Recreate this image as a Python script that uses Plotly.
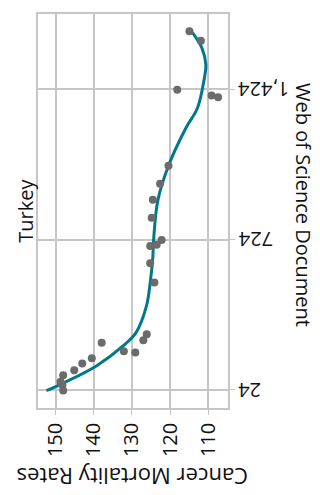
import plotly.graph_objects as go

# Observed country data: Web of Science documents vs cancer mortality rate
docs = [1695, 1650, 1422, 1396, 1387, 1068, 984, 910, 826, 722, 700, 694,
        614, 524, 284, 256, 198, 204, 244, 172, 147, 116, 93, 62, 47, 21]
rate = [114.9, 111.9, 118.1, 109.1, 107.4, 120.4, 122.6, 124.5, 124.8, 122.2,
        123.5, 125.2, 125.2, 124.1, 126.1, 127.0, 129.1, 132.1, 137.9, 140.5,
        143.0, 145.1, 148.0, 148.7, 148.2, 148.0]

# Smoothed trend (rate as a function of documents)
fit_docs = [21, 56, 136, 229, 291, 413, 522, 644, 722, 906, 1068, 1245,
            1337, 1476, 1538, 1615, 1688]
fit_rate = [152.4, 148.0, 139.3, 132.3, 128.9, 126.2, 125.2, 124.5, 124.3,
            123.2, 120.4, 115.8, 112.8, 111.0, 110.6, 111.6, 114.1]

# Document-axis ticks
doc_ticks = [24, 724, 1424]
doc_tick_labels = ["24", "724", "1,424"]

title = "Turkey"
x_title = "Cancer Mortality Rates"
y_title = "Web of Science Document"

GRID = "#c6c6c6"
FONT = "Open Sans"

fig = go.Figure()
fig.add_trace(go.Scatter(
    x=fit_rate, y=fit_docs, mode="lines",
    line=dict(color="#00798c", width=3, shape="spline", smoothing=1.0),
    hoverinfo="skip", showlegend=False,
))
fig.add_trace(go.Scatter(
    x=rate, y=docs, mode="markers",
    marker=dict(color="#6b6b6b", size=8),
    showlegend=False,
))

# Upside-down document tick labels, left-aligned just outside the frame
tick_annotations = [
    dict(text=lab, xref="paper", yref="y", x=1.045, y=val,
         textangle=180, showarrow=False, font=dict(size=20),
         xanchor="left", yanchor="middle")
    for val, lab in zip(doc_ticks, doc_tick_labels)
]

fig.update_layout(
    width=320, height=495,
    margin=dict(l=38, r=92, t=12, b=87),
    paper_bgcolor="white", plot_bgcolor="white",
    font=dict(family=FONT, size=19, color="#111111"),
    xaxis=dict(
        range=[154.6, 104.8], tick0=110, dtick=10,
        tickangle=-90, ticks="outside", ticklen=5, tickcolor=GRID,
        showgrid=True, gridcolor=GRID, gridwidth=1.5,
        showline=True, linecolor=GRID, linewidth=1.5, mirror=True,
        zeroline=False, tickfont=dict(size=20),
    ),
    yaxis=dict(
        range=[-60, 1775], tickvals=doc_ticks, showticklabels=False,
        side="right", ticks="outside", ticklen=5, tickcolor=GRID,
        showgrid=True, gridcolor=GRID, gridwidth=1.5,
        showline=True, linecolor=GRID, linewidth=1.5, mirror=True,
        zeroline=False,
    ),
    annotations=tick_annotations + [
        dict(text=title, xref="paper", yref="paper", x=-0.07, y=0.5,
             textangle=-90, showarrow=False, font=dict(size=20),
             xanchor="center", yanchor="middle"),
        dict(text=y_title, xref="paper", yref="paper", x=1.40, y=0.515,
             textangle=90, showarrow=False, font=dict(size=20),
             xanchor="center", yanchor="middle"),
        dict(text=x_title, xref="paper", yref="paper", x=0.5, y=-0.175,
             textangle=180, showarrow=False, font=dict(size=22),
             xanchor="center", yanchor="middle"),
    ],
)

fig.write_html("out.html")
